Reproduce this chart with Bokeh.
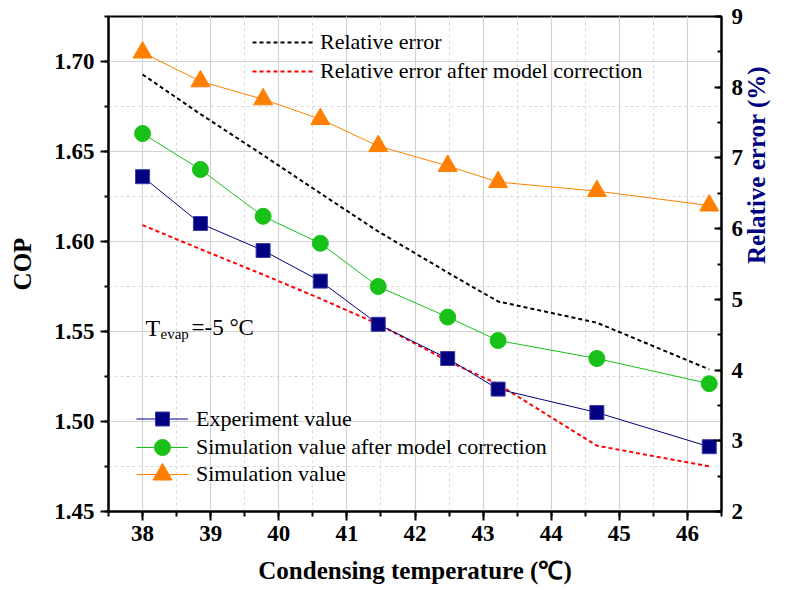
import math
from bokeh.plotting import figure
from bokeh.models import (Range1d, LinearAxis, SingleIntervalTicker, NumeralTickFormatter,
                          FixedTicker, Legend, LegendItem, Label)
from bokeh.embed import file_html
from bokeh.resources import INLINE

# ---------------- data ----------------
cond_temp = [38.0, 38.85, 39.77, 40.61, 41.46, 42.48, 43.22, 44.67, 46.32]
cop_experiment = [1.636, 1.610, 1.595, 1.578, 1.554, 1.535, 1.518, 1.505, 1.486]
cop_sim_corrected = [1.660, 1.640, 1.614, 1.599, 1.575, 1.558, 1.545, 1.535, 1.521]
cop_sim = [1.705, 1.689, 1.679, 1.668, 1.653, 1.642, 1.633, 1.628, 1.620]
rel_err = [8.18, 7.62, 7.04, 6.50, 5.96, 5.38, 4.97, 4.67, 4.01]
rel_err_corrected = [6.05, 5.71, 5.35, 5.01, 4.65, 4.13, 3.80, 2.93, 2.64]

SERIF = "Liberation Serif"
NAVY = "#000080"
GREEN = "#18c118"
ORANGE = "#ff8000"

p = figure(width=786, height=590, x_range=Range1d(37.5, 46.5), y_range=Range1d(1.45, 1.725),
           output_backend="svg", toolbar_location=None,
           min_border_left=108, min_border_right=63, min_border_top=16, min_border_bottom=79)
p.background_fill_color = "white"
p.border_fill_color = "white"
p.outline_line_color = "black"
p.outline_line_width = 2
p.outline_line_alpha = 1

p.extra_y_ranges = {"re": Range1d(2, 9), "title": Range1d(0, 1)}

# ---------------- axes ----------------
xax = p.xaxis[0]
xax.ticker = SingleIntervalTicker(interval=1, num_minor_ticks=2)
yax = p.yaxis[0]
yax.ticker = SingleIntervalTicker(interval=0.05, num_minor_ticks=2)
yax.formatter = NumeralTickFormatter(format="0.00")

rax = LinearAxis(y_range_name="re", ticker=SingleIntervalTicker(interval=1, num_minor_ticks=2))
p.add_layout(rax, "right")

for ax in (xax, yax, rax):
    ax.axis_line_width = 2
    ax.axis_line_color = "black"
    ax.major_tick_line_width = 2
    ax.minor_tick_line_width = 2
    ax.major_tick_line_color = "black"
    ax.minor_tick_line_color = "black"
    ax.major_label_text_font = SERIF
    ax.major_label_text_font_style = "bold"
    ax.major_label_text_font_size = "23px"
    ax.major_label_text_color = "black"
    ax.axis_label_text_font = SERIF
    ax.axis_label_text_font_style = "bold"
    ax.axis_label_text_font_size = "25px"
    ax.axis_label_text_color = "black"

xax.major_tick_out = 9
xax.major_tick_in = 0
xax.minor_tick_out = 5
xax.minor_tick_in = 0
xax.major_label_standoff = 5
xax.axis_label = "Condensing temperature (℃)"
xax.axis_label_standoff = 13

yax.major_tick_out = 8
yax.major_tick_in = 0
yax.minor_tick_out = 4
yax.minor_tick_in = 0
yax.major_label_standoff = 6
yax.axis_label = "COP"
yax.axis_label_standoff = 15

rax.major_tick_out = 0
rax.major_tick_in = 7
rax.minor_tick_out = 0
rax.minor_tick_in = 4
rax.major_label_standoff = 10

# title-only axis for the right side: reads bottom-to-top, placed lower than centre as in the original
tax = LinearAxis(y_range_name="title", ticker=FixedTicker(ticks=[]), bounds=(0, 0.496))
tax.axis_line_alpha = 0
tax.major_tick_in = 0
tax.major_tick_out = 0
tax.minor_tick_in = 0
tax.minor_tick_out = 0
tax.major_label_standoff = 0
tax.axis_label = "Relative error (%)"
tax.axis_label_orientation = math.pi / 2
tax.axis_label_standoff = 10
tax.axis_label_text_font = SERIF
tax.axis_label_text_font_style = "bold"
tax.axis_label_text_font_size = "25px"
tax.axis_label_text_color = NAVY
p.add_layout(tax, "right")

# ---------------- grid ----------------
p.xgrid.grid_line_color = "#d2d2d2"
p.xgrid.grid_line_width = 1.2
p.ygrid.grid_line_color = "#d2d2d2"
p.ygrid.grid_line_width = 1.2
p.xgrid.minor_grid_line_color = "#dadada"
p.xgrid.minor_grid_line_dash = "3 3"
p.ygrid.minor_grid_line_color = "#dadada"
p.ygrid.minor_grid_line_dash = "3 3"

# ---------------- relative error lines ----------------
r_re = p.line(cond_temp, rel_err, y_range_name="re", line_color="black",
              line_width=2, line_dash="4 3")
r_rec = p.line(cond_temp, rel_err_corrected, y_range_name="re", line_color="#ff0000",
               line_width=2, line_dash="4 3")

# ---------------- COP series ----------------
l_sim = p.line(cond_temp, cop_sim, line_color=ORANGE, line_width=1)
m_sim = p.scatter(cond_temp, cop_sim, marker="triangle", size=19,
                  fill_color=ORANGE, line_color=ORANGE, line_width=1)
l_cor = p.line(cond_temp, cop_sim_corrected, line_color=GREEN, line_width=1)
m_cor = p.scatter(cond_temp, cop_sim_corrected, marker="circle", size=16,
                  fill_color=GREEN, line_color=GREEN, line_width=1)
l_exp = p.line(cond_temp, cop_experiment, line_color=NAVY, line_width=1)
m_exp = p.scatter(cond_temp, cop_experiment, marker="square", size=14,
                  fill_color=NAVY, line_color="#3a3aa8", line_width=1)

# ---------------- legends ----------------
def style_legend(lg):
    lg.border_line_color = None
    lg.background_fill_alpha = 0
    lg.padding = 0
    lg.margin = 0
    lg.label_text_font = SERIF
    lg.label_text_font_size = "22px"
    lg.label_text_color = "black"
    return lg

top_leg = style_legend(Legend(items=[LegendItem(label="Relative error", renderers=[r_re]),
                                     LegendItem(label="Relative error after model correction", renderers=[r_rec])],
                              location=(144, 427)))
top_leg.glyph_width = 63
top_leg.glyph_height = 26
top_leg.label_height = 26
top_leg.spacing = 3
top_leg.label_standoff = 5
p.add_layout(top_leg)

bottom_specs = [("Experiment value", [l_exp, m_exp], 35, 75),
                ("Simulation value after model correction", [l_cor, m_cor], 40, 44),
                ("Simulation value", [l_sim, m_sim], 48, 13)]
for label, rends, gh, vy in bottom_specs:
    lg = style_legend(Legend(items=[LegendItem(label=label, renderers=rends)], location=(28, vy)))
    lg.glyph_width = 52
    lg.glyph_height = gh
    lg.label_height = gh
    lg.label_standoff = 8
    p.add_layout(lg)

# ---------------- annotation ----------------
for txt, x, y, size in [("T", 37, 184, "24px"), ("evap", 52, 178, "15px"), ("=-5 °C", 83, 184, "23px")]:
    p.add_layout(Label(x=x, y=y, x_units="screen", y_units="screen", text=txt,
                       text_font=SERIF, text_font_size=size, text_color="black",
                       text_baseline="alphabetic"))

open("out.html", "w").write(file_html(p, INLINE))
